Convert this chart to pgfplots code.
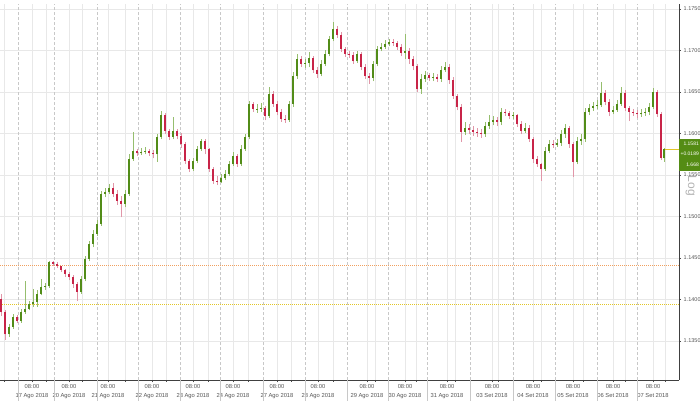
\documentclass[border=0pt]{standalone}
\usepackage{pgfplots}
\pgfplotsset{compat=1.18}
\usepackage{pgfplotstable}
\usepackage{fontspec}
\setmainfont{Liberation Sans}
\definecolor{upbody}{RGB}{82,140,24}
\definecolor{upwick}{RGB}{150,190,110}
\definecolor{dnbody}{RGB}{200,36,72}
\definecolor{dnwick}{RGB}{225,150,168}
\definecolor{gridc}{RGB}{232,232,232}
\definecolor{sepc}{RGB}{200,200,200}
\definecolor{lblc}{RGB}{85,85,85}
\definecolor{orangel}{RGB}{240,160,95}
\definecolor{yellowl}{RGB}{226,198,40}
\definecolor{boxg}{RGB}{84,140,20}

\pgfplotstableread{
x o h l c
1 1.1401 1.1407 1.1380 1.1385
5 1.1385 1.1387 1.1351 1.1358
9 1.1358 1.1371 1.1355 1.1367
13 1.1367 1.1383 1.1365 1.1379
17 1.1379 1.1381 1.1372 1.1374
21 1.1374 1.1389 1.1372 1.1385
25 1.1385 1.1422 1.1383 1.1389
29 1.1389 1.1398 1.1387 1.1395
33 1.1395 1.1413 1.1391 1.1397
37 1.1397 1.1411 1.1391 1.1407
41 1.1407 1.1425 1.1405 1.1415
45 1.1415 1.1420 1.1412 1.1416
49 1.1416 1.1447 1.1414 1.1445
53 1.1445 1.1446 1.1440 1.1443
57 1.1443 1.1445 1.1438 1.1440
61 1.1440 1.1441 1.1433 1.1436
65 1.1436 1.1437 1.1427 1.1431
69 1.1431 1.1433 1.1423 1.1427
73 1.1427 1.1430 1.1414 1.1419
77 1.1419 1.1421 1.1398 1.1409
81 1.1409 1.1428 1.1407 1.1425
85 1.1425 1.1452 1.1422 1.1449
89 1.1449 1.1471 1.1446 1.1467
93 1.1467 1.1484 1.1463 1.1479
97 1.1479 1.1496 1.1476 1.1491
101 1.1491 1.1531 1.1489 1.1527
105 1.1527 1.1534 1.1523 1.1529
109 1.1529 1.1539 1.1527 1.1534
113 1.1534 1.1541 1.1523 1.1527
117 1.1527 1.1532 1.1514 1.1519
121 1.1519 1.1525 1.1499 1.1515
125 1.1515 1.1532 1.1511 1.1527
129 1.1527 1.1575 1.1525 1.1569
133 1.1569 1.1602 1.1567 1.1579
137 1.1579 1.1581 1.1573 1.1576
141 1.1576 1.1583 1.1574 1.1578
145 1.1578 1.1584 1.1575 1.1579
149 1.1579 1.1581 1.1573 1.1576
153 1.1576 1.1580 1.1570 1.1575
157 1.1575 1.1600 1.1566 1.1596
161 1.1596 1.1627 1.1593 1.1622
165 1.1622 1.1625 1.1599 1.1603
169 1.1603 1.1605 1.1592 1.1596
173 1.1596 1.1620 1.1593 1.1603
177 1.1603 1.1605 1.1593 1.1597
181 1.1597 1.1601 1.1583 1.1587
185 1.1587 1.1590 1.1563 1.1567
189 1.1567 1.1569 1.1554 1.1557
193 1.1557 1.1570 1.1555 1.1567
197 1.1567 1.1585 1.1564 1.1581
201 1.1581 1.1594 1.1579 1.1591
205 1.1591 1.1593 1.1575 1.1581
209 1.1581 1.1583 1.1554 1.1557
213 1.1557 1.1560 1.1539 1.1543
217 1.1543 1.1549 1.1538 1.1542
221 1.1542 1.1551 1.1540 1.1546
225 1.1546 1.1556 1.1544 1.1551
229 1.1551 1.1567 1.1549 1.1563
233 1.1563 1.1578 1.1561 1.1573
237 1.1573 1.1575 1.1560 1.1563
241 1.1563 1.1586 1.1561 1.1581
245 1.1581 1.1600 1.1579 1.1596
249 1.1596 1.1639 1.1593 1.1636
253 1.1636 1.1638 1.1626 1.1629
257 1.1629 1.1636 1.1625 1.1630
261 1.1630 1.1637 1.1626 1.1631
265 1.1631 1.1633 1.1616 1.1621
269 1.1621 1.1656 1.1619 1.1648
273 1.1648 1.1651 1.1632 1.1636
277 1.1636 1.1639 1.1622 1.1626
281 1.1626 1.1629 1.1614 1.1617
285 1.1617 1.1622 1.1613 1.1616
289 1.1616 1.1639 1.1614 1.1636
293 1.1636 1.1674 1.1632 1.1669
297 1.1669 1.1696 1.1666 1.1690
301 1.1690 1.1693 1.1680 1.1684
305 1.1684 1.1690 1.1679 1.1685
309 1.1685 1.1698 1.1680 1.1691
313 1.1691 1.1693 1.1673 1.1676
317 1.1676 1.1680 1.1667 1.1672
321 1.1672 1.1689 1.1669 1.1684
325 1.1684 1.1701 1.1681 1.1696
329 1.1696 1.1717 1.1693 1.1714
333 1.1714 1.1734 1.1711 1.1726
337 1.1726 1.1729 1.1715 1.1719
341 1.1719 1.1722 1.1698 1.1702
345 1.1702 1.1704 1.1692 1.1696
349 1.1696 1.1699 1.1691 1.1695
353 1.1695 1.1698 1.1684 1.1687
357 1.1687 1.1699 1.1685 1.1696
361 1.1696 1.1698 1.1676 1.1680
365 1.1680 1.1684 1.1666 1.1669
369 1.1669 1.1673 1.1660 1.1667
373 1.1667 1.1687 1.1663 1.1684
377 1.1684 1.1705 1.1681 1.1702
381 1.1702 1.1709 1.1699 1.1704
385 1.1704 1.1713 1.1702 1.1708
389 1.1708 1.1714 1.1705 1.1710
393 1.1710 1.1714 1.1705 1.1709
397 1.1709 1.1711 1.1701 1.1704
401 1.1704 1.1708 1.1693 1.1697
405 1.1697 1.1720 1.1690 1.1699
409 1.1699 1.1703 1.1684 1.1690
413 1.1690 1.1693 1.1676 1.1681
417 1.1681 1.1684 1.1650 1.1654
421 1.1654 1.1672 1.1648 1.1666
425 1.1666 1.1675 1.1662 1.1670
429 1.1670 1.1673 1.1663 1.1667
433 1.1667 1.1673 1.1663 1.1668
437 1.1668 1.1672 1.1662 1.1666
441 1.1666 1.1681 1.1662 1.1676
445 1.1676 1.1686 1.1674 1.1680
449 1.1680 1.1684 1.1660 1.1664
453 1.1664 1.1668 1.1642 1.1645
457 1.1645 1.1648 1.1628 1.1632
461 1.1632 1.1636 1.1590 1.1602
465 1.1602 1.1614 1.1598 1.1607
469 1.1607 1.1611 1.1599 1.1604
473 1.1604 1.1609 1.1597 1.1602
477 1.1602 1.1607 1.1596 1.1601
481 1.1601 1.1605 1.1595 1.1599
485 1.1599 1.1614 1.1596 1.1609
489 1.1609 1.1622 1.1605 1.1614
493 1.1614 1.1621 1.1610 1.1616
497 1.1616 1.1620 1.1609 1.1614
501 1.1614 1.1631 1.1610 1.1626
505 1.1626 1.1629 1.1621 1.1625
509 1.1625 1.1627 1.1617 1.1621
513 1.1621 1.1626 1.1617 1.1622
517 1.1622 1.1623 1.1608 1.1611
521 1.1611 1.1615 1.1599 1.1603
525 1.1603 1.1613 1.1601 1.1607
529 1.1607 1.1610 1.1590 1.1593
533 1.1593 1.1596 1.1565 1.1569
537 1.1569 1.1573 1.1560 1.1563
541 1.1563 1.1565 1.1543 1.1557
545 1.1557 1.1584 1.1555 1.1579
549 1.1579 1.1592 1.1576 1.1587
553 1.1587 1.1592 1.1583 1.1586
557 1.1586 1.1593 1.1584 1.1589
561 1.1589 1.1604 1.1585 1.1599
565 1.1599 1.1611 1.1595 1.1607
569 1.1607 1.1609 1.1583 1.1587
573 1.1587 1.1590 1.1548 1.1566
577 1.1566 1.1596 1.1563 1.1591
581 1.1591 1.1599 1.1586 1.1593
585 1.1593 1.1631 1.1590 1.1626
589 1.1626 1.1636 1.1622 1.1631
593 1.1631 1.1638 1.1627 1.1633
597 1.1633 1.1640 1.1629 1.1634
601 1.1634 1.1662 1.1632 1.1649
605 1.1649 1.1652 1.1634 1.1638
609 1.1638 1.1642 1.1621 1.1626
613 1.1626 1.1633 1.1623 1.1628
617 1.1628 1.1640 1.1626 1.1636
621 1.1636 1.1656 1.1633 1.1649
625 1.1649 1.1652 1.1627 1.1631
629 1.1631 1.1633 1.1615 1.1626
633 1.1626 1.1629 1.1621 1.1625
637 1.1625 1.1628 1.1619 1.1623
641 1.1623 1.1629 1.1620 1.1625
645 1.1625 1.1631 1.1621 1.1626
649 1.1626 1.1637 1.1622 1.1632
653 1.1632 1.1655 1.1630 1.1650
657 1.1650 1.1652 1.1620 1.1623
661 1.1623 1.1626 1.1568 1.1570
664 1.1570 1.1583 1.1566 1.1581
}\candles

\begin{document}
\begin{tikzpicture}[x=1pt,y=1pt]
\useasboundingbox (0,0) rectangle (700,400);
\begin{axis}[
  at={(0,24)}, anchor=south west,
  scale only axis, width=679pt, height=376pt,
  xmin=0, xmax=679, ymin=1.1303, ymax=1.1756,
  axis x line*=bottom, axis y line*=right,
  axis line style={draw=black!75, line width=0.6pt},
  scaled y ticks=false,
  ytick={1.135,1.140,1.145,1.150,1.155,1.160,1.165,1.170,1.175},
  yticklabel style={font=\fontsize{5.5}{6}\selectfont, color=lblc,
    /pgf/number format/fixed, /pgf/number format/fixed zerofill,
    /pgf/number format/precision=4, /pgf/number format/assume math mode=true,
    xshift=-1pt},
  xtick={32,69,108,152,193,233,277,318,367,405,447,492,533,573,613,653},
  xticklabels={{08:00\\17 Ago 2018},{08:00\\20 Ago 2018},{08:00\\21 Ago 2018},{08:00\\22 Ago 2018},{08:00\\23 Ago 2018},{08:00\\24 Ago 2018},{08:00\\27 Ago 2018},{08:00\\28 Ago 2018},{08:00\\29 Ago 2018},{08:00\\30 Ago 2018},{08:00\\31 Ago 2018},{08:00\\03 Set 2018},{08:00\\04 Set 2018},{08:00\\05 Set 2018},{08:00\\06 Set 2018},{08:00\\07 Set 2018}},
  xticklabel style={align=center, font=\fontsize{5.8}{8.5}\selectfont, color=lblc, yshift=1pt},
  minor xtick={4,46,82,125,166,208,248,291,333,375,416,455,498,541,583,625,665},
  tick align=outside,
  major tick length=2.2pt, minor tick length=1.5pt,
  tick style={color=black!70, line width=0.5pt},
  grid=both,
  major grid style={color=gridc, line width=0.5pt},
  minor grid style={color=gridc, line width=0.5pt},
  extra x ticks={18,54,97,138,180,220,263,305,347,388,427,470,513,555,597,637},
  extra x tick labels={},
  extra x tick style={major tick length=24pt, tick style={color=sepc, line width=0.6pt},
    grid=major, major grid style={color=sepc, line width=0.5pt, dash pattern=on 3pt off 2pt}},
]
\addplot[orangel, line width=0.8pt, dash pattern=on 1.2pt off 0.8pt, forget plot] coordinates {(0,1.14415) (679,1.14415)};
\addplot[yellowl, line width=0.8pt, dash pattern=on 1.2pt off 0.8pt, forget plot] coordinates {(0,1.13946) (679,1.13946)};
\addplot[yellowl, line width=0.6pt, forget plot] coordinates {(664,1.1581) (679,1.1581)};
% wicks
\addplot[draw=none, mark=none, forget plot,
  error bars/.cd, y dir=plus, y explicit, error mark=none,
  error bar style={line width=0.6pt, draw=upwick}]
  table[x=x, y expr={\thisrow{c}>=\thisrow{o} ? \thisrow{l} : nan},
    y error plus expr={\thisrow{h}-\thisrow{l}}]{\candles};
\addplot[draw=none, mark=none, forget plot,
  error bars/.cd, y dir=plus, y explicit, error mark=none,
  error bar style={line width=0.6pt, draw=dnwick}]
  table[x=x, y expr={\thisrow{c}<\thisrow{o} ? \thisrow{l} : nan},
    y error plus expr={\thisrow{h}-\thisrow{l}}]{\candles};
% bodies
\addplot[draw=none, mark=none, forget plot,
  error bars/.cd, y dir=plus, y explicit, error mark=none,
  error bar style={line width=2.4pt, draw=upbody}]
  table[x=x, y expr={\thisrow{c}>=\thisrow{o} ? \thisrow{o} : nan},
    y error plus expr={max(\thisrow{c}-\thisrow{o},0.00005)}]{\candles};
\addplot[draw=none, mark=none, forget plot,
  error bars/.cd, y dir=plus, y explicit, error mark=none,
  error bar style={line width=2.4pt, draw=dnbody}]
  table[x=x, y expr={\thisrow{c}<\thisrow{o} ? \thisrow{c} : nan},
    y error plus expr={max(\thisrow{o}-\thisrow{c},0.00005)}]{\candles};
\end{axis}
\node[rotate=-90, font=\fontsize{12}{12}\selectfont, color=black!30] at (691,214) {Log};
\fill[boxg] (679,229) rectangle (700,261);
\node[white, font=\fontsize{5}{5}\selectfont, anchor=east, inner sep=0pt] at (699,256) {1.1581};
\node[white, font=\fontsize{5}{5}\selectfont, anchor=east, inner sep=0pt] at (699,246) {+0.0189};
\node[white, font=\fontsize{5}{5}\selectfont, anchor=east, inner sep=0pt] at (699,235) {1.668};
\end{tikzpicture}
\end{document}
